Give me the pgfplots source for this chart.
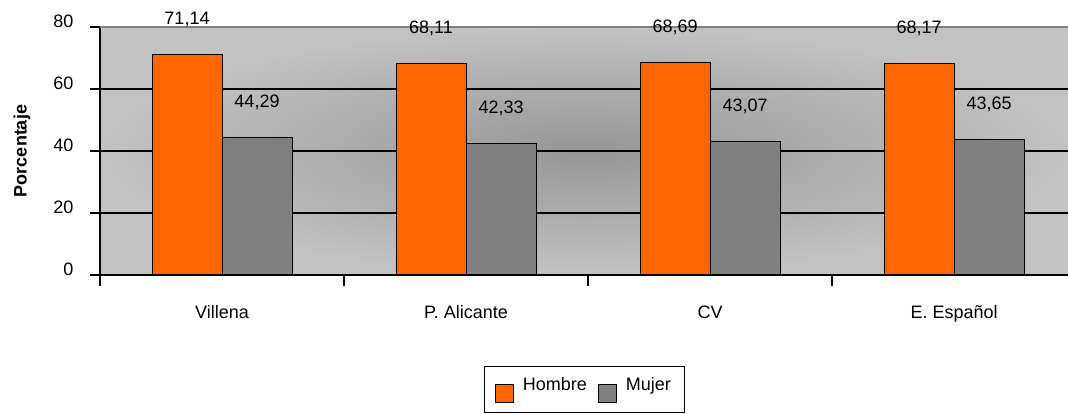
\documentclass[border=0pt]{standalone}
\usepackage{pgfplots}
\pgfplotsset{compat=1.18}
\usepackage{fontspec}
\setmainfont{Liberation Sans}
\definecolor{hombre}{RGB}{255,102,0}
\definecolor{mujer}{RGB}{128,128,128}
\definecolor{bgout}{RGB}{194,194,194}
\definecolor{bgin}{RGB}{150,150,150}
\newcommand{\chfont}{\fontsize{18}{21}\selectfont}
\begin{document}
\begin{tikzpicture}
\path[use as bounding box] (-100pt,-139pt) rectangle (968pt,275pt);
\begin{axis}[
  at={(0pt,0pt)}, anchor=south west,
  scale only axis, width=968pt, height=248pt,
  /pgf/number format/assume math mode=true,
  every tick label/.append style={font=\chfont},
  ybar=0pt, bar width=70pt,
  xmin=-0.5, xmax=3.467, ymin=0, ymax=80,
  axis x line*=bottom, axis y line*=left,
  axis line style={black, line width=1.4pt, -},
  xtick={0,1,2,3}, xticklabels={Villena, P. Alicante, CV, E. Español},
  major x tick style={draw=none},
  minor xtick={-0.5,0.5,1.5,2.5},
  minor tick length=11pt,
  minor x tick style={black, line width=1.2pt},
  xtick pos=bottom, xtick align=outside,
  x tick label style={yshift=-17pt},
  ytick={0,20,40,60,80},
  yticklabels={0,20,40,60,80},
  ytick pos=left, ytick align=outside,
  major tick length=10pt,
  y tick style={black, line width=1.2pt},
  y tick label style={xshift=-13pt, yshift=6pt},
  ymajorgrids, grid style={black, line width=1.4pt},
  ylabel={\textbf{Porcentaje}},
  ylabel style={at={(axis description cs:-0.0805,0.5)}, anchor=center, font=\chfont},
  axis background/.style={inner color=bgin, outer color=bgout},
  nodes near coords={\pgfmathprintnumber[fixed,fixed zerofill,precision=2,use comma,assume math mode=true]{\pgfplotspointmeta}},
  nodes near coords style={anchor=base, yshift=30pt, black, font=\chfont},
  legend style={at={(0.5,-0.367)}, anchor=north, legend columns=2, draw=black, line width=0.8pt,
    inner xsep=11pt, inner ysep=9.5pt, font=\chfont,
    /tikz/every odd column/.append style={column sep=6.7pt},
    /tikz/every even column/.append style={column sep=9.4pt}},
  legend image code/.code={\draw[#1, line width=1pt] (0pt,-17pt) rectangle (18pt,1pt);},
]
\addplot[fill=hombre, draw=black, line width=1pt] coordinates {(0,71.14) (1,68.11) (2,68.69) (3,68.17)};
\addplot[fill=mujer, draw=black, line width=1pt] coordinates {(0,44.29) (1,42.33) (2,43.07) (3,43.65)};
\legend{Hombre, Mujer}
\draw[gray, line width=2pt] (rel axis cs:0,1) -- (rel axis cs:1,1);
\end{axis}
\end{tikzpicture}
\end{document}
